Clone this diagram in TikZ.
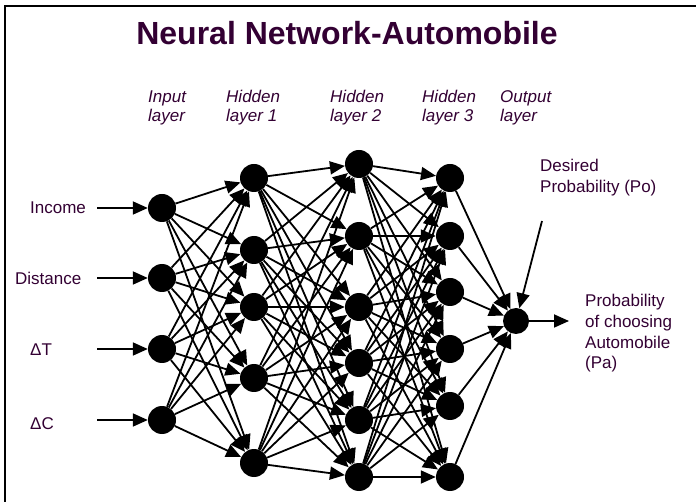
\documentclass[tikz,border=0pt]{standalone}
\usepackage{fontspec}
\setmainfont{Liberation Sans}
\usetikzlibrary{arrows.meta}
\definecolor{txt}{HTML}{330033}
\begin{document}
\begin{tikzpicture}[x=1pt,y=-1pt,
  neuron/.style={circle,fill=black,minimum size=28pt,inner sep=0pt},
  link/.style={line width=1.8pt,-{Triangle[length=15pt,width=13pt]}},
  lbl/.style={text=txt,font=\fontsize{17}{19}\selectfont,inner sep=0pt,anchor=base west},
  layerlbl/.style={text=txt,font=\fontsize{17}{19}\selectfont\itshape,inner sep=0pt,align=left,anchor=base west},
  sidelbl/.style={text=txt,font=\fontsize{17}{20.5}\selectfont,inner sep=0pt,align=left,anchor=base west}]
\useasboundingbox (0,0) rectangle (696,502);
\clip (0,0) rectangle (696,502);
\fill[white] (0,0) rectangle (696,502);
% slide frame
\draw[line width=2pt] (5,6.5) rectangle (720,530);
% title
\node[text=txt,font=\fontsize{32}{38}\selectfont\bfseries] (title) at (347,33) {Neural Network-Automobile};
% layer captions (base anchor sits on the last line)
\node[layerlbl] (capin) at (148,122) {Input\\layer};
\node[layerlbl] (caph1) at (226,122) {Hidden\\layer 1};
\node[layerlbl] (caph2) at (330,122) {Hidden\\layer 2};
\node[layerlbl] (caph3) at (422,122) {Hidden\\layer 3};
\node[layerlbl] (capout) at (500,122) {Output\\layer};
% neurons
\foreach \y [count=\i] in {208,278,349,420} \node[neuron] (a\i) at (162,\y) {};
\foreach \y [count=\i] in {178,250,307,378,463} \node[neuron] (b\i) at (254,\y) {};
\foreach \y [count=\i] in {164,236,307,363,420,477} \node[neuron] (c\i) at (359,\y) {};
\foreach \y [count=\i] in {178,236,292,349,406,477} \node[neuron] (d\i) at (450,\y) {};
\node[neuron,minimum size=26pt] (o) at (516,321) {};
% weights between layers
\foreach \i in {1,...,4} \foreach \j in {1,...,5} \draw[link] (a\i) -- (b\j);
\foreach \i in {1,...,5} \foreach \j in {1,...,6} \draw[link] (b\i) -- (c\j);
\foreach \i in {1,...,6} \foreach \j in {1,...,6} \draw[link] (c\i) -- (d\j);
\foreach \i in {1,...,6} \draw[link] (d\i) -- (o);
% inputs
\node[lbl] (lin1) at (30,214) {Income};
\node[lbl] (lin2) at (15,285) {Distance};
\node[lbl] (lin3) at (30,356) {ΔT};
\node[lbl] (lin4) at (30,429) {ΔC};
\foreach \y [count=\i] in {208,278,349,420} {
  \coordinate (s\i) at (97,\y);
  \draw[link] (s\i) -- (a\i);
}
% output and target
\coordinate (outend) at (569,321);
\draw[link] (o) -- (outend);
\coordinate (dstart) at (542,221);
\draw[link] (dstart) -- (o);
\node[sidelbl] (desired) at (540,192.5) {Desired\\Probability (Po)};
\node[sidelbl] (result) at (585,368.5) {Probability\\of choosing\\Automobile\\(Pa)};
\end{tikzpicture}
\end{document}
